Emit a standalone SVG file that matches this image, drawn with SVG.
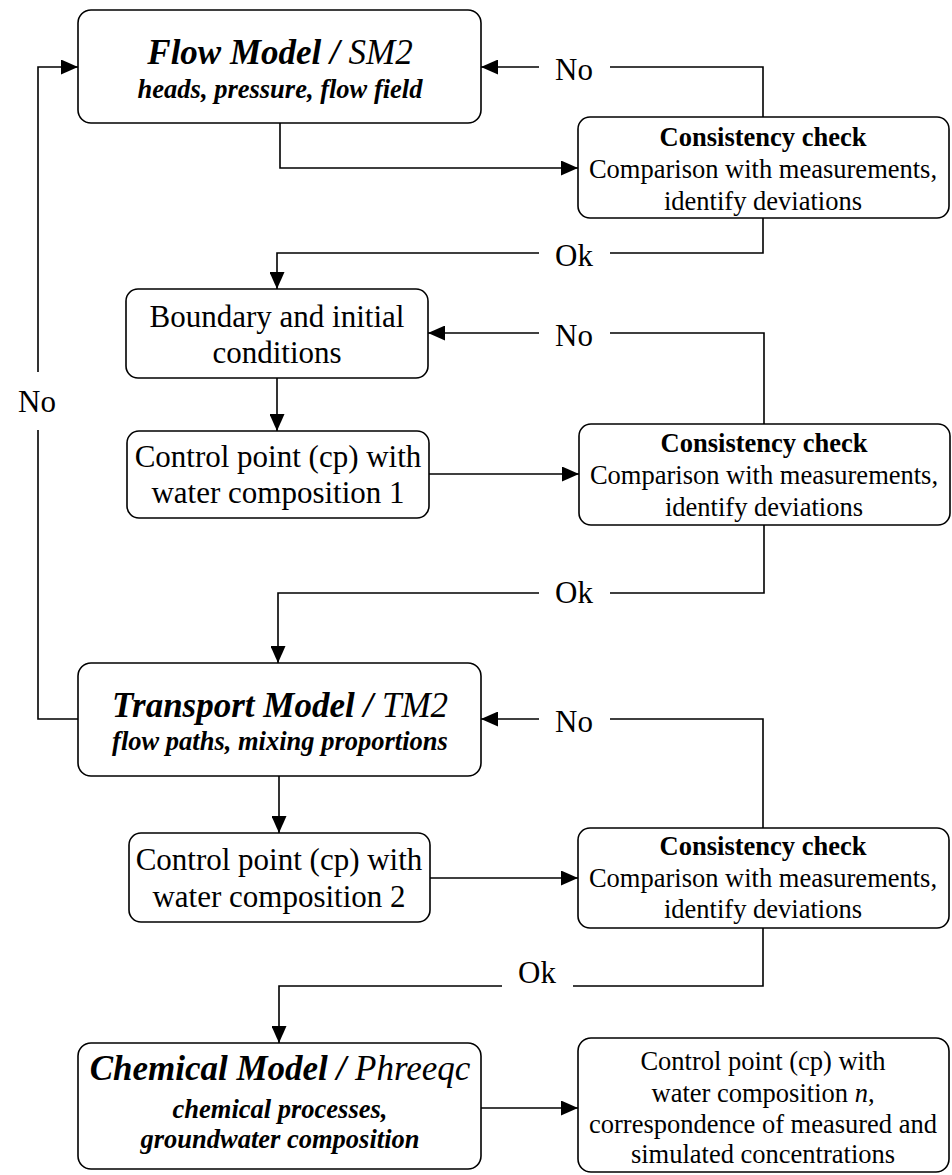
<svg xmlns="http://www.w3.org/2000/svg" width="952" height="1175" viewBox="0 0 952 1175">
<style>
.box{fill:#fff;stroke:#000;stroke-width:1.6}
.ln{fill:none;stroke:#000;stroke-width:1.6}
text{font-family:'Liberation Serif','DejaVu Serif',serif;fill:#000;text-anchor:middle}
.t{font-size:35px;font-style:italic}
.tb{font-weight:bold}
.sub{font-size:26.5px;font-style:italic;font-weight:bold}
.cc{font-size:26.5px}
.big{font-size:31px}
</style>
<defs>
<marker id="ah" markerUnits="userSpaceOnUse" markerWidth="17" markerHeight="15" refX="17" refY="7.5" orient="auto">
<path d="M0,0 L17,7.5 L0,15 Z" fill="#000"/>
</marker>
</defs>
<g id="connectors">
<path class="ln" d="M78,719 H38 V430"/>
<path class="ln" d="M38,372 V67 H78" marker-end="url(#ah)"/>
<path class="ln" d="M280,123 V168 H578" marker-end="url(#ah)"/>
<path class="ln" d="M763,117 V67 H610"/>
<path class="ln" d="M539,67 H481" marker-end="url(#ah)"/>
<path class="ln" d="M763,218 V253 H610"/>
<path class="ln" d="M539,253 H277 V289" marker-end="url(#ah)"/>
<path class="ln" d="M277,378 V431" marker-end="url(#ah)"/>
<path class="ln" d="M429,474 H579" marker-end="url(#ah)"/>
<path class="ln" d="M764,424 V333 H610"/>
<path class="ln" d="M539,333 H428" marker-end="url(#ah)"/>
<path class="ln" d="M764,525 V593 H610"/>
<path class="ln" d="M539,593 H278 V663" marker-end="url(#ah)"/>
<path class="ln" d="M763,828 V719 H610"/>
<path class="ln" d="M539,719 H481" marker-end="url(#ah)"/>
<path class="ln" d="M279,776 V833" marker-end="url(#ah)"/>
<path class="ln" d="M430,878 H578" marker-end="url(#ah)"/>
<path class="ln" d="M763,928 V986 H573"/>
<path class="ln" d="M502,986 H279 V1043" marker-end="url(#ah)"/>
<path class="ln" d="M481,1108 H578" marker-end="url(#ah)"/>
<text class="big" x="574" y="80">No</text>
<text class="big" x="574" y="266">Ok</text>
<text class="big" x="574" y="346">No</text>
<text class="big" x="574" y="603">Ok</text>
<text class="big" x="574" y="732">No</text>
<text class="big" x="537" y="983">Ok</text>
<text class="big" x="37" y="412">No</text>
</g>
<g id="flow-model">
<rect class="box" x="78" y="10" width="403" height="113" rx="13"/>
<text class="t" x="280" y="64"><tspan class="tb">Flow Model /</tspan> SM2</text>
<text class="sub" x="280" y="98">heads, pressure, flow field</text>
</g>
<g id="check-1">
<rect class="box" x="578" y="117" width="371" height="101" rx="12"/>
<text class="cc tb" x="763" y="146">Consistency check</text>
<text class="cc" x="763" y="178">Comparison with measurements,</text>
<text class="cc" x="763" y="210">identify deviations</text>
</g>
<g id="boundary">
<rect class="box" x="126" y="289" width="302" height="89" rx="12"/>
<text class="big" x="277" y="327">Boundary and initial</text>
<text class="big" x="277" y="363">conditions</text>
</g>
<g id="cp-1">
<rect class="box" x="127" y="431" width="302" height="87" rx="12"/>
<text class="big" x="278" y="467">Control point (cp) with</text>
<text class="big" x="278" y="503">water composition 1</text>
</g>
<g id="check-2">
<rect class="box" x="579" y="424" width="371" height="101" rx="12"/>
<text class="cc tb" x="764" y="452">Consistency check</text>
<text class="cc" x="764" y="484">Comparison with measurements,</text>
<text class="cc" x="764" y="516">identify deviations</text>
</g>
<g id="transport-model">
<rect class="box" x="78" y="663" width="403" height="113" rx="13"/>
<text class="t" x="280" y="717"><tspan class="tb">Transport Model /</tspan> TM2</text>
<text class="sub" x="280" y="750">flow paths, mixing proportions</text>
</g>
<g id="cp-2">
<rect class="box" x="129" y="833" width="301" height="89" rx="12"/>
<text class="big" x="279" y="870">Control point (cp) with</text>
<text class="big" x="279" y="907">water composition 2</text>
</g>
<g id="check-3">
<rect class="box" x="578" y="828" width="371" height="100" rx="12"/>
<text class="cc tb" x="763" y="855">Consistency check</text>
<text class="cc" x="763" y="887">Comparison with measurements,</text>
<text class="cc" x="763" y="918">identify deviations</text>
</g>
<g id="chemical-model">
<rect class="box" x="78" y="1043" width="403" height="126" rx="13"/>
<text class="t" x="280" y="1080"><tspan class="tb">Chemical Model /</tspan> Phreeqc</text>
<text class="sub" x="280" y="1118">chemical processes,</text>
<text class="sub" x="280" y="1148">groundwater composition</text>
</g>
<g id="result">
<rect class="box" x="578" y="1038" width="371" height="134" rx="13"/>
<text class="cc" x="763" y="1070">Control point (cp) with</text>
<text class="cc" x="763" y="1102">water composition <tspan font-style="italic">n</tspan>,</text>
<text class="cc" x="763" y="1133">correspondence of measured and</text>
<text class="cc" x="763" y="1163">simulated concentrations</text>
</g>
</svg>
